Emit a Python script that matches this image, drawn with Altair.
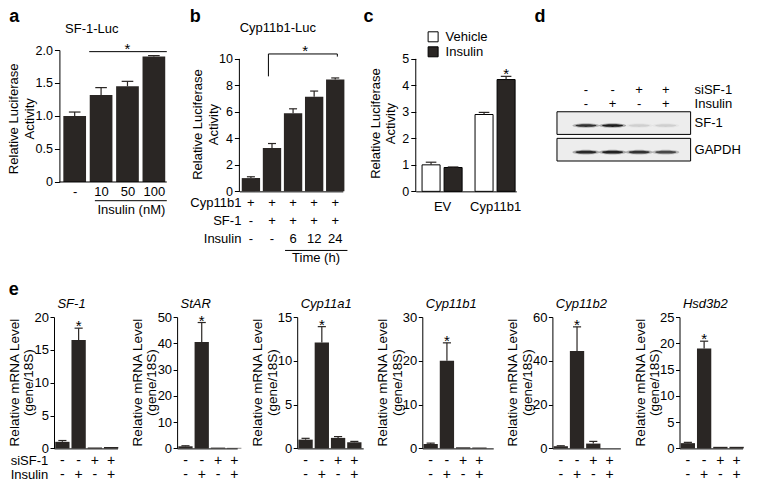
import json
import altair as alt
import pandas as pd

FONT = "Liberation Sans"
INK = "#2a2624"
SX, SY = 0.985, 0.985


def px(v):
    return round(v * SX, 2)


def py(v):
    return round(v * SY, 2)


# ---------------- data ----------------
a_labels = ["-", "10", "50", "100"]
a_values = [1.00, 1.32, 1.45, 1.90]
a_errors = [0.06, 0.11, 0.075, 0.015]

b_values = [1.00, 3.28, 5.90, 7.15, 8.44]
b_errors = [0.10, 0.33, 0.33, 0.42, 0.12]
b_row_names = ["Cyp11b1", "SF-1", "Insulin"]
b_rows = [["+", "+", "+", "+", "+"],
          ["-", "+", "+", "+", "+"],
          ["-", "-", "6", "12", "24"]]

c_groups = ["EV", "Cyp11b1"]
c_treatments = ["Vehicle", "Insulin"]
c_values = [[1.00, 0.90], [2.90, 4.22]]
c_errors = [[0.10, 0.02], [0.08, 0.12]]

d_lanes = [1, 2, 3, 4]
d_cond_names = ["siSF-1", "Insulin"]
d_cond_rows = [["-", "-", "+", "+"], ["-", "+", "-", "+"]]
d_blots = ["SF-1", "GAPDH"]
d_intensity = [[0.80, 0.92, 0.10, 0.10], [0.85, 0.90, 0.80, 0.68]]

e_genes = ["SF-1", "StAR", "Cyp11a1", "Cyp11b1", "Cyp11b2", "Hsd3b2"]
e_values = [[1.0, 16.5, 0.15, 0.2], [0.8, 40.5, 0.3, 0.2], [1.0, 12.1, 1.2, 0.7],
            [1.0, 20.0, 0.25, 0.2], [1.0, 44.5, 2.2, 0.0], [1.0, 19.0, 0.3, 0.3]]
e_errors = [[0.2, 1.8, 0, 0], [0.2, 7.4, 0, 0], [0.15, 1.8, 0.15, 0.1],
            [0.2, 4.1, 0, 0], [0.2, 11.0, 1.0, 0], [0.15, 1.4, 0, 0]]
e_ticks = [[0, 5, 10, 15, 20], [0, 10, 20, 30, 40, 50], [0, 5, 10, 15],
           [0, 10, 20, 30], [0, 20, 40, 60], [0, 5, 10, 15, 20, 25]]
e_cond_names = ["siSF-1", "Insulin"]
e_cond_rows = [["-", "-", "+", "+"], ["-", "+", "-", "+"]]

LUC_TITLE = ["Relative Luciferase", "Activity"]
MRNA_TITLE = ["Relative mRNA Level", "(gene/18S)"]


# ---------------- helpers ----------------
def lin(lo, hi, reverse=False):
    if reverse:
        return alt.Scale(domain=[lo, hi], nice=False, zero=False, reverse=True)
    return alt.Scale(domain=[lo, hi], nice=False, zero=False)


def QX(field, scale, hide=False):
    return alt.X(field, type="quantitative", scale=scale, axis=None) if hide else \
        alt.X(field, type="quantitative", scale=scale)


def QY(field, scale, hide=False):
    return alt.Y(field, type="quantitative", scale=scale, axis=None) if hide else \
        alt.Y(field, type="quantitative", scale=scale)


def y_axis(values, domain=True, label_expr=None, tick=5, pad=2, offset=0, size=12.5):
    kw = dict(values=values, tickCount=len(values), title=None, tickSize=tick,
              labelPadding=pad, labelFontSize=size, domain=domain, grid=False,
              tickColor="black", domainColor="black", labelColor="black", tickWidth=1,
              domainWidth=1, labelOverlap=False, labelFlush=False, labelBound=False)
    if offset:
        kw["offset"] = offset
    if label_expr:
        kw["labelExpr"] = label_expr
    return alt.Axis(**kw)


def x_axis(labels=None, pad=4, domain=True):
    if labels:
        return alt.Axis(values=list(range(len(labels))), tickCount=len(labels),
                        labelExpr=f"{json.dumps(labels)}[datum.value]",
                        ticks=False, tickSize=0, labelPadding=pad, labelFontSize=13,
                        title=None, grid=False, domain=domain, domainColor="black",
                        domainWidth=1, labelColor="black", labelFlush=False,
                        labelOverlap=False, labelBound=False)
    return alt.Axis(labels=False, ticks=False, tickSize=0, title=None, grid=False,
                    domain=domain, domainColor="black", domainWidth=1)


def bars(df, pos, xs, ys, hw, xa, ya, **mark):
    return (alt.Chart(df)
            .transform_calculate(pos=pos)
            .transform_calculate(x0=f"datum.pos - {hw}", x1=f"datum.pos + {hw}")
            .mark_rect(**mark)
            .encode(x=alt.X("x0:Q", scale=xs, axis=xa), x2="x1:Q",
                    y=alt.Y("value:Q", scale=ys, axis=ya), y2=alt.datum(0)))


def errorbars(df, pos, xs, ys, cw, width=1.2):
    base = (alt.Chart(df).transform_filter("datum.err > 0")
            .transform_calculate(pos=pos)
            .transform_calculate(top="datum.value + datum.err",
                                 c0=f"datum.pos - {cw}", c1=f"datum.pos + {cw}"))
    stem = base.mark_rule(color=INK, strokeWidth=width).encode(
        x=QX("pos", xs), y=QY("value", ys), y2="top:Q")
    cap = base.mark_rule(color=INK, strokeWidth=width).encode(
        x=QX("c0", xs), x2="c1:Q", y=QY("top", ys))
    return [stem, cap]


def star(df, pos, filt, xs, ys, dy, size=15):
    return (alt.Chart(df).transform_filter(filt)
            .transform_calculate(pos=pos)
            .transform_calculate(top="datum.value + datum.err")
            .mark_text(text="*", fontSize=size, baseline="middle", dy=dy, color="black")
            .encode(x=QX("pos", xs), y=QY("top", ys)))


def note(text, xs=None, ys=None, x=None, y=None, xpx=None, ypx=None, size=13, hide=False, **kw):
    cols = {"t": [text]}
    enc = {"text": "t:N"}
    if x is not None:
        cols["x"] = [x]
        enc["x"] = QX("x", xs, hide)
    else:
        enc["x"] = alt.value(xpx)
    if y is not None:
        cols["y"] = [y]
        enc["y"] = QY("y", ys, hide)
    else:
        enc["y"] = alt.value(ypx)
    kw.setdefault("baseline", "middle")
    kw.setdefault("color", "black")
    return alt.Chart(pd.DataFrame(cols)).mark_text(fontSize=size, **kw).encode(**enc)


def ytitle(lines, xcenters, ycenter, size=13):
    return [note(t, xpx=xc, ypx=ycenter, size=size, angle=270, align="center")
            for t, xc in zip(lines, xcenters)]


def letter(text, xpx, ypx):
    return note(text, xpx=xpx, ypx=ypx, size=18, fontWeight="bold", baseline="alphabetic")


def hline(xs, x0, x1, ys=None, y=None, ypx=None, width=1):
    cols = {"x0": [x0], "x1": [x1]}
    enc = {"x": QX("x0", xs), "x2": "x1:Q"}
    if y is not None:
        cols["y"] = [y]
        enc["y"] = QY("y", ys)
    else:
        enc["y"] = alt.value(ypx)
    return alt.Chart(pd.DataFrame(cols)).mark_rule(color="black", strokeWidth=width).encode(**enc)


def vline(xs, ys, x, y0, y1, width=1):
    df = pd.DataFrame({"x": [x], "y0": [y0], "y1": [y1]})
    return alt.Chart(df).mark_rule(color="black", strokeWidth=width).encode(
        x=QX("x", xs), y=QY("y0", ys), y2="y1:Q")


def signs(xvals, marks, xs, ypx, size=13, hide=False):
    df = pd.DataFrame({"x": list(xvals), "t": marks})
    return alt.Chart(df).mark_text(fontSize=size, baseline="middle", color="black").encode(
        x=QX("x", xs, hide), y=alt.value(ypx), text="t:N")


LETTER_Y = -py(28)

# ---------------- panel a ----------------
# panel a sits 5.5 ref-px right of the e row; the extra room is added on its left
A_SHIFT_REF = 5.5
M = px(A_SHIFT_REF)
A_W, A_H = px(109 + A_SHIFT_REF), py(134)
a_step = 26.8
a_xmin = -15.5 / a_step
a_xmax = a_xmin + 109 / a_step
a_xs = lin(a_xmin - A_SHIFT_REF / a_step, a_xmax)
a_ys = lin(0, 2)
a_df = pd.DataFrame({"idx": range(len(a_labels)), "value": a_values, "err": a_errors})
A = alt.layer(
    bars(a_df, "datum.idx", a_xs, a_ys, 0.43, x_axis(a_labels, 4, domain=False),
         y_axis([0, 0.5, 1, 1.5, 2], offset=-M,
                label_expr="datum.value == 0 ? '0' : format(datum.value, '.1f')"),
         color=INK),
    hline(a_xs, a_xmin, a_xmax, a_ys, y=0),
    *errorbars(a_df, "datum.idx", a_xs, a_ys, 0.22),
    hline(a_xs, 0.55, 3.49, a_ys, y=1.975),
    note("*", a_xs, a_ys, x=2.0, y=1.975, size=15, dy=-2.6),
    hline(a_xs, 0.765, 3.49, ypx=A_H + py(19)),
    note("Insulin (nM)", a_xs, x=2.146, ypx=A_H + py(28.7)),
    note("SF-1-Luc", a_xs, x=0.65, ypx=-py(21.8)),
    *ytitle(LUC_TITLE, [M - px(46), M - px(30)], py(69.9)),
    letter("a", M - px(45.8), LETTER_Y),
).properties(width=A_W, height=A_H)

# ---------------- panel b ----------------
BC_H = py(143.5)
TOP_PX = py(9)
B_W = px(105)
b_step = 21.4
b_xmin = -11.7 / b_step
b_xs = lin(b_xmin, b_xmin + 105 / b_step)
b_ys = lin(0, 10 * BC_H / (BC_H - TOP_PX))
b_df = pd.DataFrame({"idx": range(len(b_values)), "value": b_values, "err": b_errors})
b_offsets = [11.6, 29.8, 48.8]
b_layers = [
    bars(b_df, "datum.idx", b_xs, b_ys, 0.435, x_axis(),
         y_axis([0, 2, 4, 6, 8, 10], domain=False), color=INK),
    vline(b_xs, b_ys, b_xmin, 0, 10),
    *errorbars(b_df, "datum.idx", b_xs, b_ys, 0.19),
    vline(b_xs, b_ys, 0.83, 8.68, 10.37),
    hline(b_xs, 0.83, 4.1, b_ys, y=10.37),
    vline(b_xs, b_ys, 4.1, 10.17, 10.37),
    note("*", b_xs, b_ys, x=2.57, y=10.37, size=15, dy=-2.7),
    hline(b_xs, 1.62, 4.58, ypx=BC_H + py(60)),
    note("Time (h)", b_xs, x=3.09, ypx=BC_H + py(68.1)),
    note("Cyp11b1-Luc", b_xs, x=1.28, ypx=-py(22.3)),
    *ytitle(LUC_TITLE, [-px(42), -px(26)], py(75.7)),
    letter("b", -px(44.7), LETTER_Y),
]
for name, row, off in zip(b_row_names, b_rows, b_offsets):
    b_layers.append(signs(range(len(row)), row, b_xs, BC_H + py(off)))
    b_layers.append(note(name, xpx=px(2), ypx=BC_H + py(off), align="right"))
B = alt.layer(*b_layers).properties(width=B_W, height=BC_H)

# ---------------- panel c ----------------
C_W = px(102)
c_unit = 53.8
c_xmin = -26.7 / c_unit
c_xs = lin(c_xmin, c_xmin + 102 / c_unit)
c_ys = lin(0, 5 * BC_H / (BC_H - TOP_PX))
c_df = pd.DataFrame([
    {"g": gi, "t": ti, "treat": tr, "value": c_values[gi][ti], "err": c_errors[gi][ti]}
    for gi in range(len(c_groups)) for ti, tr in enumerate(c_treatments)
])
c_pos = "datum.g + (datum.t - 0.5) * 0.416"
c_bars = bars(c_df, c_pos, c_xs, c_ys, 0.17, x_axis(c_groups, 9),
              y_axis([0, 1, 2, 3, 4, 5], domain=False),
              stroke="black", strokeWidth=1).encode(
    fill=alt.Fill("treat:N", scale=alt.Scale(domain=c_treatments, range=["white", INK]),
                  legend=alt.Legend(title=None, orient="none", legendX=px(11), legendY=-py(20),
                                    symbolType="square", symbolSize=100,
                                    symbolStrokeColor="black", symbolStrokeWidth=1,
                                    labelFontSize=13, labelOffset=6, rowPadding=0,
                                    padding=0, labelColor="black")))
C = alt.layer(
    c_bars,
    vline(c_xs, c_ys, c_xmin, 0, 5),
    *errorbars(c_df, c_pos, c_xs, c_ys, 0.1),
    star(c_df, c_pos, "datum.g == 1 && datum.t == 1", c_xs, c_ys, dy=-2.5),
    *ytitle(LUC_TITLE, [-px(40), -px(25)], py(74.7)),
    letter("c", -px(48), LETTER_Y),
).properties(width=C_W, height=BC_H)

# ---------------- panel d (western blot) ----------------
D_W, D_H = px(100), py(112.7)
d_k = 27.0                      # ref px per lane / per blot row
d_x0 = 1 + 3.25 / d_k
d_xs = lin(d_x0, d_x0 + 100 / d_k)
d_y0 = -74.2 / d_k
d_ys = lin(d_y0, d_y0 + 112.7 / d_k, reverse=True)
BOX_HALF = 11.5 / d_k
HALO = "M-1,0A1,0.17,0,1,1,1,0A1,0.17,0,1,1,-1,0Z"
CORE = "M-1,0A1,0.13,0,1,1,1,0A1,0.13,0,1,1,-1,0Z"
d_rows_df = pd.DataFrame({"r": range(len(d_blots)), "row": d_blots})
d_df = pd.DataFrame([
    {"lane": lane, "r": ri, "level": d_intensity[ri][li]}
    for ri in range(len(d_blots)) for li, lane in enumerate(d_lanes)
])
d_box = alt.Chart(d_rows_df).transform_calculate(
    y0=f"datum.r - {BOX_HALF}", y1=f"datum.r + {BOX_HALF}").mark_rect(
    fill="#ededed", stroke="black", strokeWidth=1).encode(
    x=alt.XDatum(-0.09, type="quantitative", scale=d_xs, axis=None),
    x2=alt.X2Datum(4.935),
    y=QY("y0", d_ys, True), y2="y1:Q")
d_halo = alt.Chart(d_df).transform_calculate(o="datum.level * 0.35").mark_point(
    shape=HALO, filled=True, size=27 * 27, color="#111111", strokeWidth=0, yOffset=py(2.5)).encode(
    x=QX("lane", d_xs, True), y=QY("r", d_ys, True),
    opacity=alt.Opacity("o:Q", scale=None))
d_core = alt.Chart(d_df).mark_point(
    shape=CORE, filled=True, size=21 * 21, color="#111111", strokeWidth=0, yOffset=py(2.5)).encode(
    x=QX("lane", d_xs, True), y=QY("r", d_ys, True),
    opacity=alt.Opacity("level:Q", scale=None))
d_names = alt.Chart(d_rows_df).mark_text(
    align="left", baseline="middle", fontSize=13, color="black").encode(
    x=alt.XDatum(5.083, type="quantitative", scale=d_xs, axis=None),
    y=QY("r", d_ys, True), text="row:N")
d_layers = [d_box, d_halo, d_core, d_names, letter("d", -px(50), LETTER_Y)]
for name, row, off in zip(d_cond_names, d_cond_rows, [40.7, 54.7]):
    d_layers.append(signs(d_lanes, row, d_xs, py(off), 13, hide=True))
    d_layers.append(note(name, d_xs, x=5.083, ypx=py(off), align="left", hide=True))
D = alt.layer(*d_layers).properties(width=D_W, height=D_H)

# ---------------- panel e ----------------
E_H = py(133.4)
e_step = 16.5
e_xmin = -8.5 / e_step
E_W_REF = [64.5, 61, 67, 72, 69, 64]
E = []
for i, gene in enumerate(e_genes):
    df = pd.DataFrame({"idx": range(4), "value": e_values[i], "err": e_errors[i]})
    xs = lin(e_xmin, e_xmin + E_W_REF[i] / e_step)
    ys = lin(0, e_ticks[i][-1])
    layers = [
        bars(df, "datum.idx", xs, ys, 0.44, x_axis(),
             y_axis(e_ticks[i], tick=4, pad=1.5, size=13), color=INK),
        *errorbars(df, "datum.idx", xs, ys, 0.25),
        star(df, "datum.idx", "datum.idx == 1", xs, ys, dy=-1.8),
        note(gene, xpx=px(3.5), ypx=-py(13.3), fontStyle="italic", align="left"),
        *ytitle(MRNA_TITLE, [-px(39.5), -px(25)], py(66.6), size=13.5),
        signs(range(4), e_cond_rows[0], xs, E_H + py(12.3), 14),
        signs(range(4), e_cond_rows[1], xs, E_H + py(26.5), 14),
    ]
    if i == 0:
        layers.append(note(e_cond_names[0], xpx=-px(44), ypx=E_H + py(12.3), align="left"))
        layers.append(note(e_cond_names[1], xpx=-px(44), ypx=E_H + py(26.5), align="left"))
        layers.append(letter("e", -px(40.8), -py(22.6)))
    E.append(alt.layer(*layers).properties(width=px(E_W_REF[i]), height=E_H))

top = (alt.hconcat(A, B, C, D, spacing=px(79) - M, bounds="flush")
       .resolve_scale(fill="independent").resolve_legend(fill="independent"))
bottom = alt.hconcat(*E, spacing=px(60), bounds="flush")
chart = (alt.vconcat(top, bottom, spacing=14)
         .resolve_scale(fill="independent").resolve_legend(fill="independent")
         .properties(padding=0, background="white"))
chart = (chart.configure(font=FONT)
         .configure_view(strokeWidth=0)
         .configure_axis(labelFont=FONT, titleFont=FONT, labelOverlap=False)
         .configure_text(font=FONT)
         .configure_legend(labelFont=FONT))

chart.save("out.html", embed_options={"renderer": "svg", "actions": False})
